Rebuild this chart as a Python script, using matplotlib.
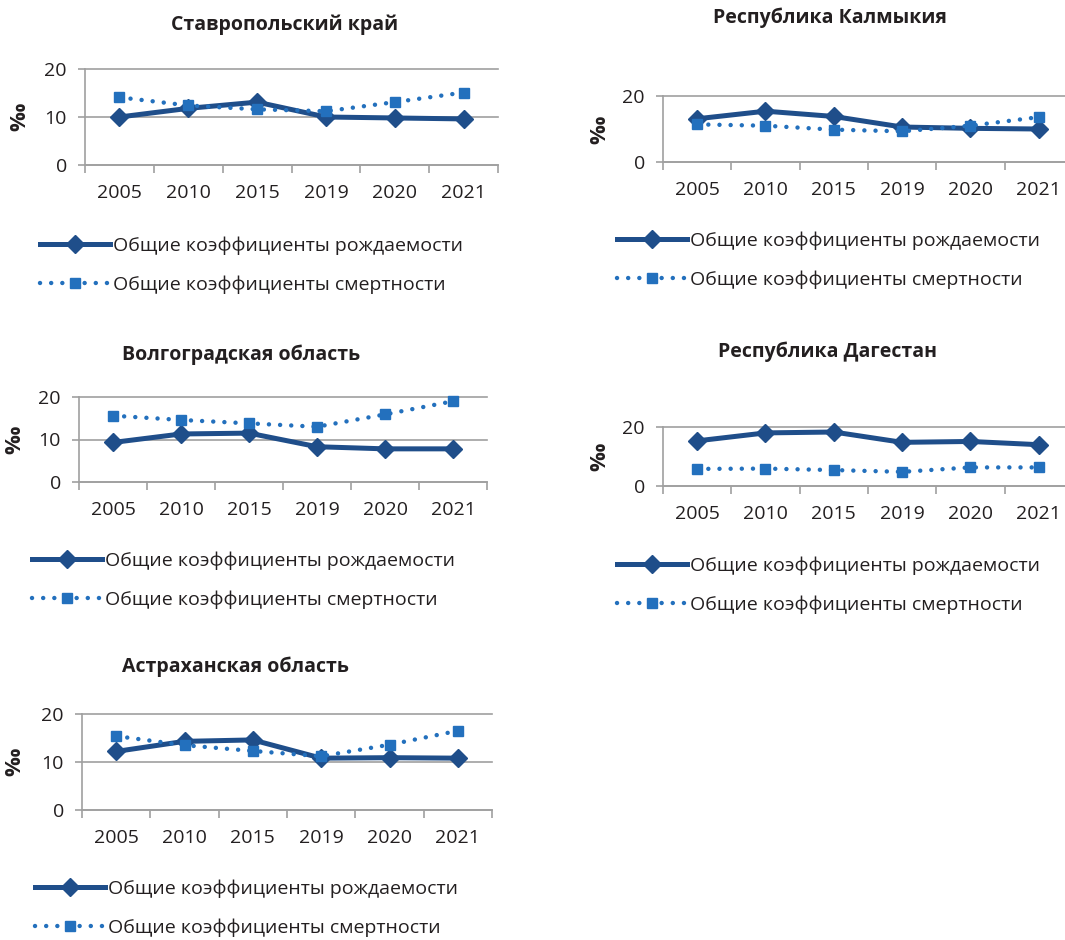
import numpy as np
import matplotlib
matplotlib.use("Agg")
import matplotlib.pyplot as plt

plt.rcParams['font.family'] = ['Open Sans', 'DejaVu Sans']

# ---- data -------------------------------------------------------------
years = ["2005", "2010", "2015", "2019", "2020", "2021"]
regions = ["Ставропольский край", "Республика Калмыкия", "Волгоградская область",
           "Республика Дагестан", "Астраханская область"]
series_labels = ["Общие коэффициенты рождаемости", "Общие коэффициенты смертности"]
unit_label = "‰"

births_stavropol = [10.0, 11.8, 13.1, 10.0, 9.8, 9.6]
deaths_stavropol = [14.1, 12.4, 11.6, 11.2, 13.1, 15.1]

births_kalmykia = [13.1, 15.4, 13.8, 10.6, 10.2, 10.0]
deaths_kalmykia = [11.4, 11.0, 9.8, 9.3, 11.0, 13.6]

births_volgograd = [9.3, 11.3, 11.5, 8.3, 7.8, 7.8]
deaths_volgograd = [15.6, 14.6, 13.8, 13.0, 15.9, 19.0]

births_dagestan = [15.3, 18.0, 18.3, 14.8, 15.1, 14.0]
deaths_dagestan = [5.8, 5.9, 5.4, 4.8, 6.3, 6.3]

births_astrakhan = [12.2, 14.3, 14.6, 10.8, 10.9, 10.8]
deaths_astrakhan = [15.4, 13.5, 12.3, 11.2, 13.6, 16.5]

births = [births_stavropol, births_kalmykia, births_volgograd, births_dagestan, births_astrakhan]
deaths = [deaths_stavropol, deaths_kalmykia, deaths_volgograd, deaths_dagestan, deaths_astrakhan]

# ---- styling ----------------------------------------------------------
W, H = 1065, 940
BIRTH_C = "#1F4E8A"
DEATH_C = "#2370BD"
GRAY = "#A0A0A0"
TEXT_C = "#231F20"
FS = 14

# panel layout in pixels: axes (left, top, right, bottom), title centre,
# unit label centre, legend anchor (left, vertical centre), y ticks
layout = [
    dict(ax=(85, 69, 498, 165), title=(285, 25), unit=(20, 117), leg=(40, 265), yt=[0, 10, 20]),
    dict(ax=(663, 96, 1073, 162), title=(830, 18), unit=(600, 130), leg=(617, 260), yt=[0, 20]),
    dict(ax=(79, 397, 487, 482), title=(241, 355), unit=(15, 440), leg=(32, 580), yt=[0, 10, 20]),
    dict(ax=(663, 427, 1073, 486), title=(827, 352), unit=(600, 457), leg=(617, 585), yt=[0, 20]),
    dict(ax=(82, 714, 492, 810), title=(235, 667), unit=(15, 762), leg=(35, 908), yt=[0, 10, 20]),
]


def fx(px):
    return px / W


def fy(py):
    return 1 - py / H


fig = plt.figure(figsize=(W / 100, H / 100), dpi=100)
fig.patch.set_facecolor("white")

x = np.arange(len(years))

for i, region in enumerate(regions):
    L = layout[i]
    l, t, r, b = L["ax"]
    ax = fig.add_axes([fx(l), fy(b), (r - l) / W, (b - t) / H])

    ln_b, = ax.plot(x, births[i], color=BIRTH_C, lw=3.6, marker="D", ms=9,
                    solid_joinstyle="round", zorder=3, clip_on=False)
    ln_d, = ax.plot(x, deaths[i], color=DEATH_C, lw=3.2, linestyle=(0, (0.01, 2.5)),
                    dash_capstyle="round", marker="s", ms=7, zorder=4, clip_on=False)

    ax.set_xlim(-0.5, len(years) - 0.5)
    ax.set_ylim(0, 20)
    ax.set_yticks(L["yt"])
    ax.set_xticks(np.arange(-0.5, len(years), 1.0))
    ax.set_xticks(x, minor=True)
    ax.set_xticklabels(years, minor=True)
    ax.tick_params(axis="x", which="major", direction="out", length=6, width=1.2,
                   color=GRAY, labelbottom=False)
    ax.tick_params(axis="x", which="minor", length=0, pad=14, labelsize=FS,
                   labelcolor=TEXT_C)
    ax.tick_params(axis="y", direction="out", length=5, width=1.2, color=GRAY,
                   pad=8, labelsize=FS, labelcolor=TEXT_C)

    ax.yaxis.grid(True, color=GRAY, lw=1.2)
    for gl in ax.get_ygridlines():
        gl.set_clip_on(False)
    ax.set_axisbelow(True)
    for s in ("top", "right"):
        ax.spines[s].set_visible(False)
    for s in ("left", "bottom"):
        ax.spines[s].set_color(GRAY)
        ax.spines[s].set_linewidth(1.2)

    fig.text(fx(L["title"][0]), fy(L["title"][1]), region, ha="center", va="center",
             fontsize=14, fontweight="bold", color=TEXT_C)
    fig.text(fx(L["unit"][0]), fy(L["unit"][1]), unit_label, ha="center", va="center",
             rotation=90, fontsize=16, fontweight="bold", color=TEXT_C)

    ax.legend([ln_b, ln_d], series_labels, loc="center left",
              bbox_to_anchor=(fx(L["leg"][0]), fy(L["leg"][1])),
              bbox_transform=fig.transFigure, frameon=False, fontsize=FS,
              handlelength=3.6, handletextpad=0.15, labelspacing=1.06,
              borderpad=0, borderaxespad=0, numpoints=1, labelcolor=TEXT_C)

fig.savefig("out.png", dpi=100, facecolor="white")
